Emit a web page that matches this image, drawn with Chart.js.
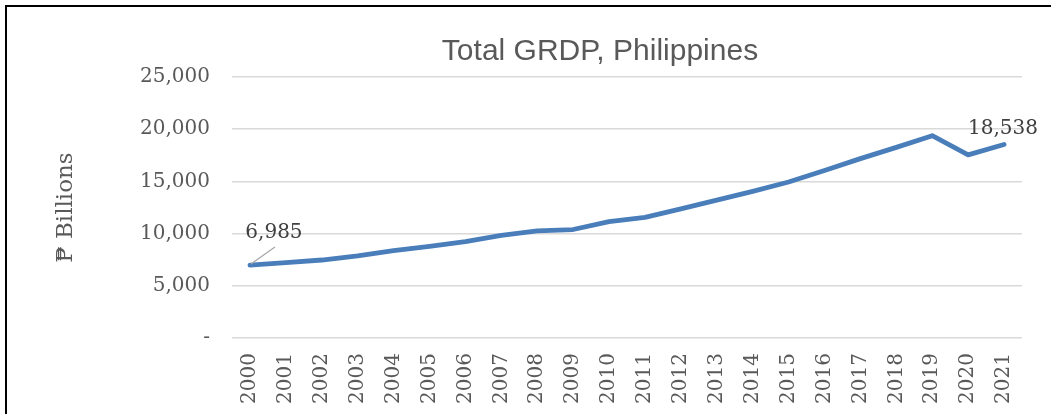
<!DOCTYPE html>
<html><head><meta charset="utf-8">
<script src="https://cdn.jsdelivr.net/npm/chart.js@4"></script>
<style>
html,body{margin:0;padding:0;background:#fff;width:1051px;height:414px;overflow:hidden;}
#frame{position:absolute;left:5px;top:5px;width:1100px;height:500px;border-top:2px solid #000;border-left:2px solid #000;}
#wrap{position:absolute;left:8px;top:7px;width:1043px;height:407px;}
</style></head><body>
<div id="frame"></div>
<div id="wrap"><canvas id="c" width="1043" height="407"></canvas></div>
<script>
const years = ['2000','2001','2002','2003','2004','2005','2006','2007','2008','2009','2010','2011','2012','2013','2014','2015','2016','2017','2018','2019','2020','2021'];
const grdp = [6985,7220,7470,7860,8360,8780,9240,9840,10260,10390,11150,11560,12370,13210,14050,14940,16050,17180,18260,19380,17540,18538];
const yTickValues = [0,5000,10000,15000,20000,25000];
const chartTitle = 'Total GRDP, Philippines';
const yAxisTitle = '₱ Billions';

const serif = '"DejaVu Serif", serif';
const textGray = '#595959';

const titlePlugin = {
  id: 'customTitle',
  afterDraw(chart) {
    const ctx = chart.ctx;
    ctx.save();
    ctx.font = '30px "Liberation Sans", Arial, sans-serif';
    ctx.fillStyle = textGray;
    ctx.textAlign = 'center';
    ctx.textBaseline = 'middle';
    ctx.fillText(chartTitle, 592, 45);
    ctx.restore();
  }
};

const labelPlugin = {
  id: 'endLabels',
  afterDatasetsDraw(chart) {
    const ctx = chart.ctx;
    const meta = chart.getDatasetMeta(0);
    const fmt = v => v.toLocaleString('en-US');
    const p0 = meta.data[0];
    const pl = meta.data[meta.data.length - 1];
    ctx.save();
    ctx.strokeStyle = '#a6a6a6';
    ctx.lineWidth = 1.2;
    ctx.beginPath();
    ctx.moveTo(p0.x + 1, p0.y - 1);
    ctx.lineTo(p0.x + 25, p0.y - 18);
    ctx.stroke();
    ctx.font = '20px ' + serif;
    ctx.fillStyle = '#404040';
    ctx.textAlign = 'center';
    ctx.textBaseline = 'middle';
    ctx.fillText(fmt(grdp[0]), p0.x + 24, p0.y - 32);
    ctx.fillText(fmt(grdp[grdp.length - 1]), pl.x - 1, pl.y - 16);
    ctx.restore();
  }
};

new Chart(document.getElementById('c'), {
  type: 'line',
  data: {
    labels: years,
    datasets: [{
      data: grdp,
      borderColor: '#4a7ebb',
      borderWidth: 4.8,
      pointRadius: 0,
      tension: 0,
      borderCapStyle: 'round',
      borderJoinStyle: 'round',
      fill: false
    }]
  },
  options: {
    responsive: false,
    animation: false,
    layout: { padding: { top: 70, right: 29, left: 0, bottom: 0 } },
    plugins: { legend: { display: false }, tooltip: { enabled: false }, title: { display: false } },
    scales: {
      x: {
        offset: true,
        grid: { display: false },
        border: { display: false },
        ticks: {
          autoSkip: false, maxRotation: 90, minRotation: 90, padding: 7,
          font: { family: serif, size: 20 }, color: textGray
        },
        afterFit(s) { s.height = 76; }
      },
      y: {
        min: 0, max: 25000,
        afterBuildTicks(s) { s.ticks = yTickValues.map(v => ({ value: v })); },
        grid: { color: '#d9d9d9', lineWidth: 1.5, drawTicks: false },
        border: { display: false },
        ticks: {
          padding: 22,
          font: { family: serif, size: 20 }, color: textGray,
          callback: v => v === 0 ? '-' : Number(v).toLocaleString('en-US')
        },
        title: {
          display: true, text: yAxisTitle, color: textGray,
          font: { family: serif, size: 23 }, padding: { top: 44, bottom: 0 }
        },
        afterFit(s) { s.width = 224; }
      }
    }
  },
  plugins: [titlePlugin, labelPlugin]
});
</script>
</body></html>
